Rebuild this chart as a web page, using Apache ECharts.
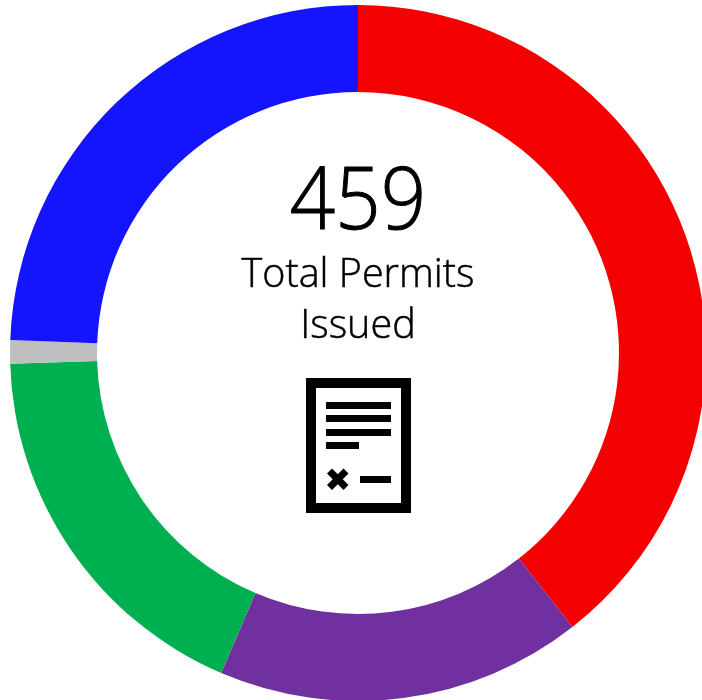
<!DOCTYPE html>
<html>
<head>
<meta charset="utf-8">
<style>html,body{margin:0;padding:0;background:#fff}#c{width:702px;height:700px}</style>
<script src="https://cdn.jsdelivr.net/npm/echarts@6/dist/echarts.min.js"></script>
</head>
<body>
<div id="c"></div>
<script>
const categories = ['Red', 'Purple', 'Green', 'Gray', 'Blue'];
const values = [181, 78, 83, 5, 112];
const colors = ['#F40000', '#7030A0', '#00B050', '#BFBFBF', '#1414FF'];
const totalLabel = '459';
const captionLines = ['Total Permits', 'Issued'];
const font = '"Open Sans", "Noto Sans", sans-serif';
const chart = echarts.init(document.getElementById('c'), null, {renderer: 'canvas'});
const bar = (x, y, width, height) => ({type: 'rect', shape: {x, y, width, height}, style: {fill: '#000'}, silent: true});
const label = (text, y, size, scaleX, lw) => ({type: 'text', x: 358, y, scaleX, silent: true, style: {text, font: '300 ' + size + 'px ' + font, fill: '#000', stroke: '#000', lineWidth: lw, align: 'center', verticalAlign: 'middle'}});
chart.setOption({
  animation: false,
  backgroundColor: '#fff',
  series: [{
    type: 'pie',
    center: [358, 353],
    radius: [261, 348],
    startAngle: 90,
    clockwise: true,
    avoidLabelOverlap: false,
    label: {show: false},
    labelLine: {show: false},
    silent: true,
    data: categories.map((name, i) => ({name, value: values[i], itemStyle: {color: colors[i]}}))
  }],
  graphic: [
    label(totalLabel, 204, 86, 0.926, 1),
    label(captionLines[0], 276, 39.5, 1, 0.5),
    label(captionLines[1], 327, 39.5, 1, 0.5),
    {type: 'rect', silent: true, shape: {x: 311, y: 383, width: 95, height: 125}, style: {fill: '#fff', stroke: '#000', lineWidth: 10}},
    bar(326, 402, 65, 7), bar(326, 415, 65, 7), bar(326, 429, 65, 7), bar(326, 442, 33, 7), bar(360, 476, 31, 7),
    {type: 'line', silent: true, shape: {x1: 329.5, y1: 471, x2: 346, y2: 487.5}, style: {stroke: '#000', lineWidth: 7}},
    {type: 'line', silent: true, shape: {x1: 346, y1: 471, x2: 329.5, y2: 487.5}, style: {stroke: '#000', lineWidth: 7}}
  ]
});
</script>
</body>
</html>
